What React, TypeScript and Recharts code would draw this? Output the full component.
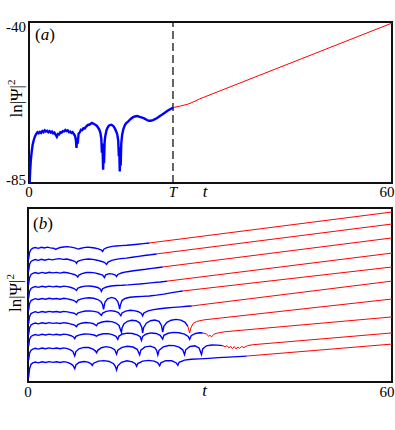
import React from 'react';
import { LineChart, Line, XAxis, YAxis, ReferenceLine, ReferenceArea } from 'recharts';

type Pt = [number, number];

// panel (a): t (x) and ln|Psi|^2 (y)
const T_MARK = 23.8;
const aTicksX = [0, T_MARK, 60];
const aTicksY = [-85, -40];

const aBlue: Pt[] = [
  [0.1, -85], [0.2, -81.5], [0.3, -78.6], [0.45, -76.2], [0.6, -74.3], [0.8, -72.9], [1.0, -71.9], [1.2, -71.3],
  [1.4, -70.8], [1.6, -71.1], [1.8, -70.7], [2.0, -71.0], [2.2, -70.5], [2.4, -70.8], [2.6, -70.3], [2.8, -70.6],
  [3.0, -70.4], [3.2, -70.8], [3.4, -70.5], [3.6, -70.9], [3.8, -70.6], [4.0, -71.1], [4.2, -70.9], [4.4, -71.5],
  [4.6, -72.1], [4.8, -71.3], [5.0, -71.4], [5.2, -70.8], [5.4, -70.9], [5.6, -70.5], [5.8, -70.6], [6.0, -70.2],
  [6.2, -70.5], [6.4, -70.3], [6.6, -70.8], [6.8, -70.6], [7.0, -71.0], [7.2, -70.8], [7.4, -71.3], [7.6, -71.8],
  [7.75, -73.0], [7.85, -75.2], [7.95, -72.4], [8.05, -74.0], [8.2, -71.2], [8.4, -70.8], [8.6, -70.1], [8.8, -70.2],
  [9.0, -69.7], [9.2, -69.8], [9.4, -69.3], [9.6, -69.0], [9.8, -68.7], [10.0, -68.7], [10.2, -68.4], [10.4, -68.2],
  [10.6, -68.4], [10.8, -68.5], [11.0, -68.8], [11.2, -69.0], [11.4, -69.5], [11.6, -70.0], [11.8, -71.0], [11.95, -72.6],
  [12.05, -76.5], [12.15, -74.0], [12.25, -81.3], [12.32, -77.0], [12.4, -79.5], [12.5, -73.5], [12.6, -72.0], [12.8, -70.3],
  [13.0, -69.5], [13.2, -69.0], [13.4, -68.8], [13.6, -68.7], [13.8, -68.9], [14.0, -69.2], [14.2, -69.8], [14.4, -70.5],
  [14.6, -71.5], [14.75, -73.2], [14.85, -77.5], [14.92, -75.0], [15.0, -81.8], [15.08, -78.0], [15.15, -80.2], [15.25, -74.0],
  [15.4, -71.5], [15.6, -69.9], [15.8, -69.0], [16.0, -68.4], [16.4, -67.8], [16.8, -67.1], [17.2, -66.6], [17.5, -66.4],
  [17.9, -66.3], [18.3, -66.5], [18.7, -66.7], [19.1, -67.0], [19.5, -67.4], [19.8, -67.6], [20.1, -67.6], [20.5, -67.4],
  [20.9, -67.1], [21.3, -66.7], [21.7, -66.2], [22.1, -65.8], [22.5, -65.3], [22.9, -64.8], [23.4, -64.3], [23.85, -63.9],
];
const aRed: Pt[] = [
  [23.85, -63.9], [25.0, -63.5], [26.2, -63.0], [27.1, -62.4], [28.2, -61.5], [29.1, -60.9], [45, -50.3], [60, -40.3],
];

// panel (b): ten runs, arbitrary ln|Psi|^2 units (0..100)
const bTicksX = [0, 60];

const b1Blue: Pt[] = [
  [0.1, 70.5], [0.25, 74.5], [0.5, 76.2], [0.8, 76.9], [1.2, 77.3], [1.7, 76.8], [2.2, 77.4], [2.7, 77.0], [3.2, 77.5],
  [3.7, 77.1], [4.2, 76.9], [4.6, 76.2], [4.8, 76.6], [5.3, 77.3], [5.9, 77.6], [6.5, 77.8], [7.1, 77.5], [7.7, 77.1],
  [8.3, 76.4], [8.6, 76.7], [9.2, 77.2], [9.8, 77.5], [10.4, 77.3], [11.0, 77.0], [11.6, 76.5], [12.1, 75.8], [12.3, 75.0],
  [12.5, 76.3], [13.0, 77.2], [13.7, 77.8], [14.5, 78.2], [15.4, 78.4], [16.3, 78.6], [17.2, 78.9], [18.1, 79.2],
  [19.0, 79.5], [20.0, 79.9],
];
const b1Red: Pt[] = [[20.0, 79.9], [60, 97.7]];

const b2Blue: Pt[] = [
  [0.1, 63.5], [0.25, 67.5], [0.5, 69.3], [0.8, 69.9], [1.2, 70.4], [1.7, 69.9], [2.2, 70.5], [2.8, 70.0], [3.4, 70.6],
  [4.0, 70.2], [4.6, 70.6], [5.2, 70.9], [5.8, 70.5], [6.4, 70.7], [7.0, 70.1], [7.5, 69.6], [7.85, 69.0], [8.0, 68.2],
  [8.15, 69.2], [8.6, 69.9], [9.3, 70.5], [10.0, 70.7], [10.7, 70.5], [11.4, 70.0], [12.0, 69.4], [12.6, 68.8],
  [12.95, 67.6], [13.2, 68.9], [13.8, 69.9], [14.5, 70.5], [15.3, 70.9], [16.2, 71.2], [17.2, 71.7], [18.2, 72.2],
  [19.2, 72.7], [20.2, 73.1], [21.2, 73.6],
];
const b2Red: Pt[] = [[21.2, 73.6], [60, 90.8]];

const b3Blue: Pt[] = [
  [0.1, 56.0], [0.25, 60.0], [0.5, 61.8], [0.8, 62.4], [1.2, 62.9], [1.7, 62.4], [2.3, 63.0], [2.9, 62.5], [3.5, 63.1],
  [4.1, 62.7], [4.7, 63.0], [5.3, 62.6], [5.9, 63.1], [6.5, 62.8], [7.1, 62.3], [7.6, 61.8], [8.0, 61.2], [8.2, 60.3],
  [8.4, 61.5], [8.9, 62.3], [9.6, 62.9], [10.3, 63.0], [11.0, 62.7], [11.7, 62.1], [12.3, 61.4], [12.6, 60.0],
  [12.8, 61.6], [13.4, 62.3], [14.0, 62.0], [14.4, 61.4], [14.6, 60.6], [14.8, 61.8], [15.5, 62.8], [16.4, 63.4],
  [17.4, 63.9], [18.4, 64.4], [19.4, 64.8], [20.4, 65.3], [21.3, 65.7], [22.2, 66.1],
];
const b3Red: Pt[] = [[22.2, 66.1], [60, 82.8]];

const b4Blue: Pt[] = [
  [0.1, 48.0], [0.25, 52.0], [0.5, 53.8], [0.8, 54.4], [1.2, 54.9], [1.7, 54.4], [2.3, 55.0], [2.9, 54.6], [3.5, 55.1],
  [4.1, 54.7], [4.7, 55.0], [5.3, 54.6], [5.9, 55.1], [6.5, 54.8], [7.1, 54.3], [7.6, 53.7], [8.0, 52.6], [8.2, 53.9],
  [8.7, 54.6], [9.4, 55.1], [10.1, 55.2], [10.8, 54.9], [11.5, 54.3], [11.9, 53.5], [12.1, 52.1], [12.3, 53.6],
  [12.9, 54.6], [13.7, 55.2], [14.6, 55.5], [15.5, 55.6], [16.5, 55.8], [17.5, 56.1], [18.4, 56.3], [19.5, 56.7],
  [20.6, 57.1], [21.8, 57.5], [23.0, 58.0],
];
const b4Red: Pt[] = [[23.0, 58.0], [60, 74.1]];

const b5Blue: Pt[] = [
  [0.1, 41.0], [0.25, 45.0], [0.5, 46.8], [0.8, 47.4], [1.2, 47.9], [1.7, 47.4], [2.3, 48.0], [2.9, 47.6], [3.5, 48.1],
  [4.1, 47.7], [4.7, 48.0], [5.3, 47.6], [5.9, 48.1], [6.5, 47.8], [7.1, 47.3], [7.6, 46.8], [8.0, 45.7], [8.2, 46.9],
  [8.7, 47.6], [9.4, 48.2], [10.1, 48.4], [10.8, 48.1], [11.5, 47.4], [12.0, 46.3], [12.3, 44.5], [12.45, 41.8],
  [12.55, 43.5], [12.7, 46.0], [13.1, 47.8], [13.8, 48.6], [14.4, 47.9], [14.8, 46.2], [15.0, 43.8], [15.1, 41.9],
  [15.25, 44.5], [15.5, 46.8], [16.0, 48.0], [16.8, 48.7], [17.8, 49.0], [18.9, 49.2], [20.0, 49.4], [21.2, 49.9],
  [22.4, 50.5], [23.5, 51.2], [24.5, 51.8], [25.5, 52.3],
];
const b5Red: Pt[] = [[25.5, 52.3], [60, 66.1]];

const b6Blue: Pt[] = [
  [0.1, 33.5], [0.25, 37.5], [0.5, 39.3], [0.8, 39.9], [1.2, 40.4], [1.7, 39.9], [2.3, 40.5], [2.9, 40.1], [3.5, 40.6],
  [4.1, 40.2], [4.7, 40.5], [5.3, 40.1], [5.9, 40.6], [6.5, 40.3], [7.1, 39.9], [7.6, 39.5], [8.0, 38.6], [8.2, 39.6],
  [8.8, 40.3], [9.5, 40.8], [10.2, 40.9], [10.9, 40.6], [11.6, 40.0], [12.1, 38.3], [12.3, 39.6], [12.9, 40.6],
  [13.6, 41.0], [14.3, 40.7], [14.9, 39.9], [15.3, 38.1], [15.5, 39.7], [16.1, 40.7], [16.8, 41.2], [17.5, 41.0],
  [18.2, 40.4], [18.7, 39.4], [18.9, 38.0], [19.1, 39.7], [19.8, 40.9], [20.7, 41.6], [21.7, 42.1], [22.8, 42.5],
  [24.0, 42.9], [25.2, 43.2], [26.2, 43.5], [27.0, 43.7],
];
const b6Red: Pt[] = [[27.0, 43.7], [60, 58.0]];

const b7Blue: Pt[] = [
  [0.1, 27.0], [0.25, 31.0], [0.5, 32.8], [0.8, 33.4], [1.2, 33.9], [1.7, 33.4], [2.3, 34.0], [2.9, 33.6], [3.5, 34.1],
  [4.1, 33.7], [4.7, 34.0], [5.3, 33.6], [5.9, 34.1], [6.5, 33.8], [7.1, 33.3], [7.6, 32.8], [8.0, 31.8], [8.2, 33.0],
  [8.8, 33.8], [9.5, 34.2], [10.2, 34.0], [10.8, 33.5], [11.3, 32.3], [11.5, 33.6], [12.2, 34.5], [13.0, 34.9],
  [13.8, 34.7], [14.5, 33.9], [15.0, 32.5], [15.3, 29.5], [15.4, 28.6], [15.5, 31.0], [15.8, 33.3], [16.4, 34.9],
  [17.1, 35.5], [17.8, 35.2], [18.4, 34.0], [18.75, 31.5], [18.9, 28.2], [19.05, 31.2], [19.5, 33.8], [20.2, 35.2],
  [20.9, 35.6], [21.6, 34.8], [22.0, 32.5], [22.2, 28.7], [22.4, 32.0], [22.9, 34.3], [23.6, 35.5], [24.4, 36.0],
  [25.2, 35.6], [25.9, 34.3], [26.35, 32.0],
];
const b7Red: Pt[] = [[26.35, 32.0], [26.65, 28.2], [26.85, 31.0], [27.2, 33.6], [27.8, 34.8], [29.0, 35.7], [60, 47.7]];

const b8Blue: Pt[] = [
  [0.1, 20.5], [0.25, 24.5], [0.5, 26.2], [0.8, 26.8], [1.2, 27.3], [1.7, 26.8], [2.3, 27.4], [2.9, 27.0], [3.5, 27.5],
  [4.1, 27.1], [4.7, 27.4], [5.3, 27.0], [5.9, 27.5], [6.5, 27.2], [7.1, 26.6], [7.5, 25.9], [7.7, 24.9], [7.9, 26.2],
  [8.5, 27.1], [9.3, 27.6], [10.1, 27.5], [10.9, 27.0], [11.3, 26.3], [11.6, 27.0], [12.4, 27.7], [13.2, 27.8],
  [13.9, 27.2], [14.5, 26.3], [14.8, 24.5], [15.0, 26.4], [15.6, 27.6], [16.4, 28.1], [17.2, 27.9], [18.0, 27.1],
  [18.5, 26.0], [18.7, 23.9], [18.9, 26.2], [19.5, 27.6], [20.3, 28.2], [21.1, 27.9], [21.8, 26.8], [22.2, 24.6],
  [22.4, 26.8], [23.1, 28.0], [24.0, 28.5], [24.9, 28.3], [25.8, 27.5], [26.4, 26.2], [26.65, 24.5], [26.9, 26.6],
  [27.6, 27.9], [28.3, 28.3], [28.8, 28.2],
];
const b8Red: Pt[] = [
  [28.8, 28.2], [29.4, 27.6], [29.8, 26.3], [30.0, 26.8], [30.3, 26.0], [30.6, 27.4], [31.2, 28.1], [32.5, 28.9], [60, 37.4],
];

const b9Blue: Pt[] = [
  [0.1, 12.5], [0.25, 16.5], [0.5, 18.3], [0.8, 18.9], [1.2, 19.4], [1.7, 18.9], [2.3, 19.5], [2.9, 19.1], [3.5, 19.6],
  [4.1, 19.2], [4.7, 19.5], [5.3, 19.1], [5.9, 19.6], [6.5, 19.2], [7.0, 18.5], [7.4, 17.6], [7.7, 15.0], [7.9, 17.5],
  [8.4, 19.1], [9.2, 19.9], [10.0, 19.8], [10.7, 18.9], [11.1, 17.9], [11.3, 16.8], [11.5, 18.2], [12.1, 19.7],
  [12.9, 20.3], [13.7, 19.8], [14.3, 18.6], [14.6, 16.0], [14.8, 18.3], [15.5, 19.9], [16.4, 20.5], [17.3, 20.1],
  [18.0, 18.8], [18.4, 15.6], [18.6, 18.3], [19.3, 20.2], [20.2, 20.6], [20.9, 19.7], [21.2, 18.2], [21.4, 15.5],
  [21.6, 18.2], [22.3, 20.2], [23.2, 21.0], [24.1, 20.9], [24.9, 20.0], [25.5, 18.5], [25.8, 15.7], [26.0, 18.5],
  [26.7, 20.4], [27.5, 20.8], [28.2, 19.6], [28.6, 15.8], [28.8, 19.0], [29.4, 20.8], [30.3, 21.3], [31.2, 21.2],
  [32.1, 20.9],
];
const b9Red: Pt[] = [
  [32.1, 20.9], [32.5, 20.2], [32.8, 20.9], [33.1, 19.6], [33.4, 20.5], [33.7, 19.2], [34.0, 20.3], [34.3, 19.0],
  [34.6, 20.1], [34.9, 19.3], [35.2, 20.4], [35.6, 19.8], [36.2, 20.9], [37.0, 21.4], [60, 28.2],
];

const b10Blue: Pt[] = [
  [0.1, 2.5], [0.25, 7.5], [0.5, 10.2], [0.8, 11.0], [1.2, 11.5], [1.7, 11.0], [2.3, 11.6], [2.9, 11.2], [3.5, 11.7],
  [4.1, 11.3], [4.7, 11.6], [5.3, 11.2], [5.9, 11.7], [6.5, 11.3], [7.0, 10.5], [7.4, 9.6], [7.7, 7.6], [7.9, 9.8],
  [8.4, 11.2], [9.2, 11.8], [9.9, 11.4], [10.4, 10.4], [10.6, 9.5], [10.8, 10.8], [11.6, 12.0], [12.5, 12.3],
  [13.4, 11.8], [14.1, 10.5], [14.4, 9.0], [14.6, 6.8], [14.8, 9.3], [15.4, 11.3], [16.3, 12.2], [17.2, 11.6],
  [17.7, 10.5], [17.9, 9.0], [18.1, 10.6], [18.9, 12.0], [19.9, 12.4], [20.8, 12.0], [21.4, 11.0], [21.7, 9.3],
  [21.9, 11.0], [22.7, 12.3], [23.7, 12.2], [24.4, 11.1], [24.7, 9.6], [24.9, 11.3], [25.8, 12.6], [26.9, 13.1],
  [28.3, 13.3], [29.8, 13.6], [31.4, 14.0], [33.0, 14.3], [34.6, 14.6], [36.05, 14.9],
];
const b10Red: Pt[] = [[36.05, 14.9], [60, 21.8]];

const bBlue = [b1Blue, b2Blue, b3Blue, b4Blue, b5Blue, b6Blue, b7Blue, b8Blue, b9Blue, b10Blue];
const bRed = [b1Red, b2Red, b3Red, b4Red, b5Red, b6Red, b7Red, b8Red, b9Red, b10Red];

const serif = '"Times New Roman", "Liberation Serif", "DejaVu Serif", "Noto Serif", serif';
const BLUE = '#0000ff';
const RED = '#ff0000';

const pts = (a: Pt[]) => a.map(([t, v]) => ({ t, v }));

const BottomTick = ({ x, y, payload }: any) => {
  const isT = payload.value === T_MARK;
  return (
    <text x={x} y={y} dy={14} textAnchor="middle" style={{ fontFamily: serif }} fontSize={15} fill="#000"
      fontStyle={isT ? 'italic' : 'normal'}>
      {isT ? 'T' : payload.value}
    </text>
  );
};

const LeftTick = ({ x, y, payload }: any) => (
  <text x={x} y={y} dy={payload.value === -40 ? 10 : 2} textAnchor="end" style={{ fontFamily: serif }} fontSize={15} fill="#000">
    {payload.value}
  </text>
);

const tLabel = ({ viewBox }: any) => (
  <text x={viewBox.x + viewBox.width * 0.485} y={viewBox.y + 14} textAnchor="middle"
    style={{ fontFamily: serif }} fontSize={17} fontStyle="italic" fill="#000">t</text>
);

const psiLabel = (shift: number) => ({ viewBox }: any) => {
  const cx = viewBox.x + viewBox.width - 7.5;
  const cy = viewBox.y + viewBox.height / 2 - shift;
  return (
    <text x={cx} y={cy} transform={`rotate(-90 ${cx} ${cy})`} textAnchor="middle"
      style={{ fontFamily: serif }} fontSize={17} fill="#000">
      ln|Ψ|<tspan dy={-7} fontSize={11}>2</tspan>
    </text>
  );
};

const letter: React.CSSProperties = { position: 'absolute', fontFamily: serif, fontSize: 17, lineHeight: '17px', color: '#000' };

export default function App() {
  return (
    <div style={{ position: 'absolute', left: 0, top: 0, width: 395, height: 430, background: '#fff' }}>
      <div style={{ position: 'absolute', left: 0, top: 0 }}>
        <LineChart width={395} height={200} margin={{ top: 22, right: 3, bottom: 0, left: 0 }}>
          <XAxis type="number" dataKey="t" domain={[0, 60]} ticks={aTicksX} allowDataOverflow
            height={17} tickSize={0} tickMargin={0} axisLine={false} tick={<BottomTick />} label={{ content: tLabel }} />
          <YAxis type="number" domain={[-85, -40]} ticks={aTicksY} allowDataOverflow width={29}
            tickSize={0} tickMargin={3} axisLine={false} tick={<LeftTick />} label={{ content: psiLabel(4) }} />
          <ReferenceLine x={T_MARK} stroke="#000" strokeDasharray="8 4" strokeWidth={1.2} />
          <Line data={pts(aRed)} dataKey="v" stroke={RED} strokeWidth={1} dot={false} isAnimationActive={false} />
          <Line data={pts(aBlue)} dataKey="v" stroke={BLUE} strokeWidth={2.4} dot={false} isAnimationActive={false} />
          <ReferenceArea x1={0} x2={60} y1={-85} y2={-40} fill="none" fillOpacity={0} stroke="#111" strokeWidth={2} />
        </LineChart>
      </div>
      <div style={{ ...letter, left: 35, top: 26 }}>(<i>a</i>)</div>

      <div style={{ position: 'absolute', left: 0, top: 200 }}>
        <LineChart width={395} height={200} margin={{ top: 8, right: 3, bottom: 0, left: 0 }}>
          <XAxis type="number" dataKey="t" domain={[0, 60]} ticks={bTicksX} allowDataOverflow
            height={18} tickSize={0} tickMargin={1} axisLine={false} tick={<BottomTick />} label={{ content: tLabel }} />
          <YAxis type="number" domain={[0, 100]} allowDataOverflow width={28} tick={false} tickLine={false}
            axisLine={false} label={{ content: psiLabel(2) }} />
          {bRed.map((s, i) => (
            <Line key={`r${i}`} data={pts(s)} dataKey="v" stroke={RED} strokeWidth={1} dot={false} isAnimationActive={false} />
          ))}
          {bBlue.map((s, i) => (
            <Line key={`b${i}`} data={pts(s)} dataKey="v" stroke={BLUE} strokeWidth={1.4} dot={false} isAnimationActive={false} />
          ))}
          <ReferenceArea x1={0} x2={60} y1={0} y2={100} fill="none" fillOpacity={0} stroke="#111" strokeWidth={2} />
        </LineChart>
      </div>
      <div style={{ ...letter, left: 33, top: 215 }}>(<i>b</i>)</div>
    </div>
  );
}
